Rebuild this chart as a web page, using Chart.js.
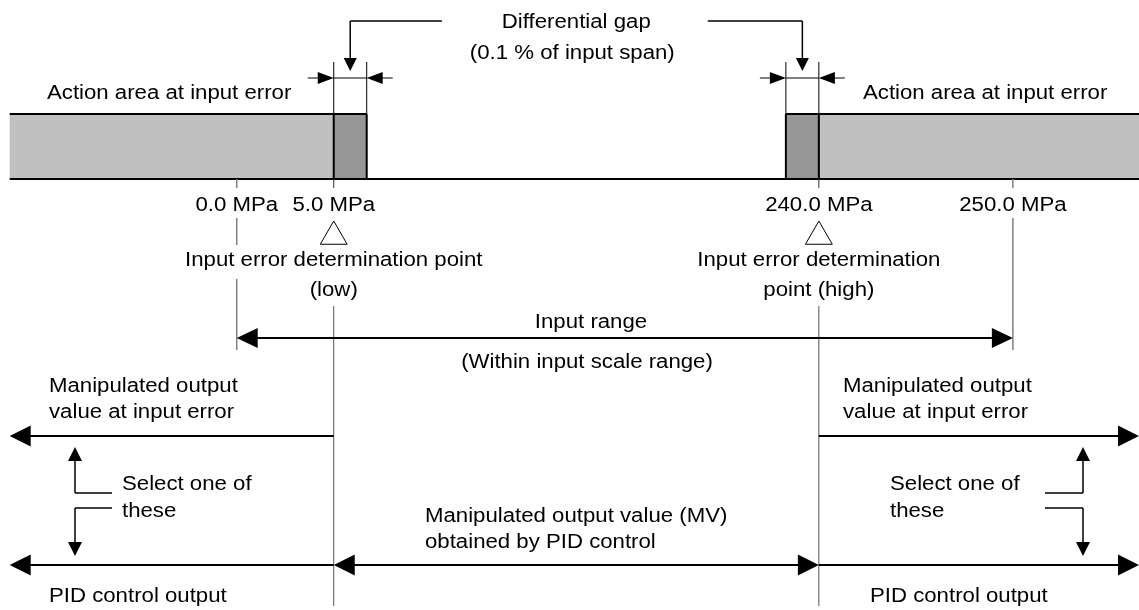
<!DOCTYPE html>
<html>
<head>
<meta charset="utf-8">
<script src="https://cdn.jsdelivr.net/npm/chart.js@4/dist/chart.umd.min.js"></script>
<style>
  html, body { margin: 0; padding: 0; background: #fff; }
  #wrap { width: 1139px; height: 610px; }
</style>
</head>
<body>
<div id="wrap"><canvas id="diagram" width="1139" height="610"></canvas></div>
<script>
// Input error action diagram (schematic, middle of the MPa axis is compressed)

// --- data ---
const tickValues = [0.0, 5.0, 240.0, 250.0];
const tickLabels = ['0.0 MPa', '5.0 MPa', '240.0 MPa', '250.0 MPa'];
const inputRange = [0.0, 250.0];
const errorPoints = [5.0, 240.0];                 // input error determination points (low, high)
const errorPointLabels = [
    ['Input error determination point', '(low)'],
    ['Input error determination', 'point (high)']
];
const gapBands = [[5.0, 6.7], [238.3, 240.0]];    // differential gap (drawn exaggerated)
const actionAreas = [[-11.7, 5.0], [240.0, 256.5]];
const axisMin = -12.2;
const axisMax = 256.5;

// --- look ---
const FONT = '20px "Liberation Sans", Arial, sans-serif';
const SX = 1.11;          // the original lettering is a little wide
const LIGHT = '#c0c0c0';
const DARK = '#969696';

// x: piecewise linear, the span between the two gap bands is squeezed
const midShare = 0.368;
function schematicPixel(scale, v) {
    const from = gapBands[0][1], to = gapBands[1][0];
    const outer = (from - axisMin) + (axisMax - to);
    const k = scale.width * (1 - midShare) / outer;
    const mid = scale.width * midShare;
    if (v <= from) return scale.left + (v - axisMin) * k;
    if (v >= to) return scale.left + (from - axisMin) * k + mid + (v - to) * k;
    return scale.left + (from - axisMin) * k + (v - from) / (to - from) * mid;
}

function line(ctx, x1, y1, x2, y2, w, color) {
    ctx.save();
    ctx.strokeStyle = color || '#000';
    ctx.lineWidth = w;
    ctx.beginPath();
    ctx.moveTo(x1, y1);
    ctx.lineTo(x2, y2);
    ctx.stroke();
    ctx.restore();
}

// arrow head at (x2, y2)
function head(ctx, x1, y1, x2, y2, len, half) {
    const a = Math.atan2(y2 - y1, x2 - x1);
    ctx.save();
    ctx.fillStyle = '#000';
    ctx.translate(x2, y2);
    ctx.rotate(a);
    ctx.beginPath();
    ctx.moveTo(0, 0);
    ctx.lineTo(-len, -half);
    ctx.lineTo(-len, half);
    ctx.closePath();
    ctx.fill();
    ctx.restore();
}

function arrow(ctx, x1, y1, x2, y2, w, len, half, both) {
    const a = Math.atan2(y2 - y1, x2 - x1);
    const sx = both ? x1 + Math.cos(a) * len * 0.8 : x1;
    const sy = both ? y1 + Math.sin(a) * len * 0.8 : y1;
    line(ctx, sx, sy, x2 - Math.cos(a) * len * 0.8, y2 - Math.sin(a) * len * 0.8, w);
    head(ctx, x1, y1, x2, y2, len, half);
    if (both) head(ctx, x2, y2, x1, y1, len, half);
}

function text(ctx, str, x, y, align, mask) {
    ctx.save();
    ctx.font = FONT;
    ctx.textBaseline = 'middle';
    ctx.textAlign = align || 'center';
    const w = ctx.measureText(str).width * SX;
    if (mask) {
        const left = align === 'left' ? x : x - w / 2;
        ctx.fillStyle = '#fff';
        ctx.fillRect(left - 4, y - 15, w + 8, 34);
    }
    ctx.fillStyle = '#000';
    ctx.translate(x, y);
    ctx.scale(SX, 1);
    ctx.fillText(str, 0, 0);
    ctx.restore();
    return w;
}

const diagramPlugin = {
    id: 'diagram',
    afterDraw(chart) {
        const ctx = chart.ctx;
        const xs = chart.scales.x, ys = chart.scales.y;
        const X = v => xs.getPixelForValue(v);
        const Y = v => ys.getPixelForValue(v);

        // rows of the drawing (top -> bottom)
        const barTop = Y(114), barBase = Y(179);

        // action areas and differential gap bands
        actionAreas.forEach(([a, b]) => {
            ctx.fillStyle = LIGHT;
            ctx.fillRect(X(a), barTop, X(b) - X(a), barBase - barTop);
        });
        gapBands.forEach(([a, b]) => {
            ctx.fillStyle = DARK;
            ctx.fillRect(X(a), barTop, X(b) - X(a), barBase - barTop);
        });
        line(ctx, X(actionAreas[0][0]), barTop, X(gapBands[0][1]), barTop, 2);
        line(ctx, X(gapBands[1][0]), barTop, X(actionAreas[1][1]), barTop, 2);
        gapBands.forEach(([a, b]) => {
            line(ctx, X(a), barTop, X(a), barBase, 2);
            line(ctx, X(b), barTop, X(b), barBase, 2);
        });
        line(ctx, X(actionAreas[0][0]), barBase, X(axisMax), barBase, 2);

        // ticks
        tickValues.forEach(v => {
            const isRange = inputRange.includes(v);
            line(ctx, X(v), barBase, X(v), Y(188), isRange ? 1.5 : 1, isRange ? '#808080' : '#333');
        });

        // dimension marks for the gap bands
        gapBands.forEach(([a, b]) => {
            const xa = X(a), xb = X(b), yd = Y(78);
            line(ctx, xa, Y(62), xa, barTop, 1);
            line(ctx, xb, Y(62), xb, barTop, 1);
            line(ctx, xa, yd, xb, yd, 1);
            arrow(ctx, xa - 26, yd, xa, yd, 1, 16, 6);
            arrow(ctx, xb + 26, yd, xb, yd, 1, 16, 6);
        });

        // differential gap callout
        const c0 = X((gapBands[0][0] + gapBands[0][1]) / 2);
        const c1 = X((gapBands[1][0] + gapBands[1][1]) / 2);
        const cm = (c0 + c1) / 2;
        const tw = text(ctx, 'Differential gap', cm, Y(22));
        text(ctx, '(0.1 % of input span)', cm - 4, Y(53));
        line(ctx, c0, Y(21), cm - tw / 2 - 60, Y(21), 1.5);
        line(ctx, c1, Y(21), cm + tw / 2 + 57, Y(21), 1.5);
        arrow(ctx, c0, Y(21), c0, Y(71), 1.5, 13, 6.5);
        arrow(ctx, c1, Y(21), c1, Y(71), 1.5, 13, 6.5);

        text(ctx, 'Action area at input error', 47, Y(93), 'left');
        text(ctx, 'Action area at input error', 863, Y(93), 'left');

        // tick labels
        tickValues.forEach((v, i) => text(ctx, tickLabels[i], X(v), Y(205)));

        // guide lines for the input range
        inputRange.forEach(v => line(ctx, X(v), Y(218), X(v), Y(350), 1.5, '#808080'));
        // guide lines for the determination points
        errorPoints.forEach(v => line(ctx, X(v), Y(306), X(v), Y(606), 1, '#555'));

        // determination point captions
        errorPoints.forEach((v, i) => {
            text(ctx, errorPointLabels[i][0], X(v), Y(260), 'center', true);
            text(ctx, errorPointLabels[i][1], X(v), Y(290));
        });

        // input range
        const yr = Y(338);
        arrow(ctx, X(inputRange[0]), yr, X(inputRange[1]), yr, 2, 21, 10, true);
        text(ctx, 'Input range', 591, Y(322));
        text(ctx, '(Within input scale range)', 587, Y(362));

        // manipulated output at input error
        const yo = Y(436), yp = Y(565);
        const xl = X(actionAreas[0][0]), xr = X(actionAreas[1][1]);
        const xlo = X(errorPoints[0]), xhi = X(errorPoints[1]);
        arrow(ctx, xlo, yo, xl, yo, 2, 21, 10.5);
        arrow(ctx, xhi, yo, xr, yo, 2, 21, 10.5);
        // PID control output
        arrow(ctx, xlo, yp, xl, yp, 2, 21, 10.5);
        arrow(ctx, xhi, yp, xr, yp, 2, 21, 10.5);
        arrow(ctx, xlo, yp, xhi, yp, 2, 21, 10.5, true);

        text(ctx, 'Manipulated output', 49, Y(386), 'left');
        text(ctx, 'value at input error', 49, Y(412), 'left');
        text(ctx, 'Manipulated output', 843, Y(386), 'left');
        text(ctx, 'value at input error', 843, Y(412), 'left');

        // "select one of these" brackets
        [[75, 112, 122], [1083, 1045, 890]].forEach(([xv, xe, xt]) => {
            line(ctx, xe, Y(493), xv, Y(493), 1.5);
            arrow(ctx, xv, Y(493), xv, Y(447), 1.5, 14, 7);
            line(ctx, xe, Y(508), xv, Y(508), 1.5);
            arrow(ctx, xv, Y(508), xv, Y(556), 1.5, 14, 7);
            text(ctx, 'Select one of', xt, Y(484), 'left');
            text(ctx, 'these', xt, Y(511), 'left');
        });

        text(ctx, 'Manipulated output value (MV)', 425, Y(516), 'left');
        text(ctx, 'obtained by PID control', 425, Y(542), 'left');

        text(ctx, 'PID control output', 49, Y(596), 'left');
        text(ctx, 'PID control output', 870, Y(596), 'left');
    }
};

new Chart(document.getElementById('diagram'), {
    type: 'scatter',
    data: {
        datasets: [{
            // the two determination point markers
            data: errorPoints.map(v => ({ x: v, y: 236.5 })),
            pointStyle: 'triangle',
            pointRadius: 15.5,
            pointHoverRadius: 15.5,
            backgroundColor: '#fff',
            borderColor: '#000',
            borderWidth: 1
        }]
    },
    options: {
        responsive: false,
        animation: false,
        devicePixelRatio: 1,
        layout: { padding: 0, autoPadding: false },
        events: [],
        plugins: {
            legend: { display: false },
            tooltip: { enabled: false }
        },
        scales: {
            x: {
                type: 'linear',
                display: false,
                min: axisMin,
                max: axisMax,
                afterUpdate(scale) {
                    scale.getPixelForValue = v => schematicPixel(scale, v);
                }
            },
            y: {
                type: 'linear',
                display: false,
                min: 0,
                max: 610,
                reverse: true
            }
        }
    },
    plugins: [diagramPlugin]
});
</script>
</body>
</html>
